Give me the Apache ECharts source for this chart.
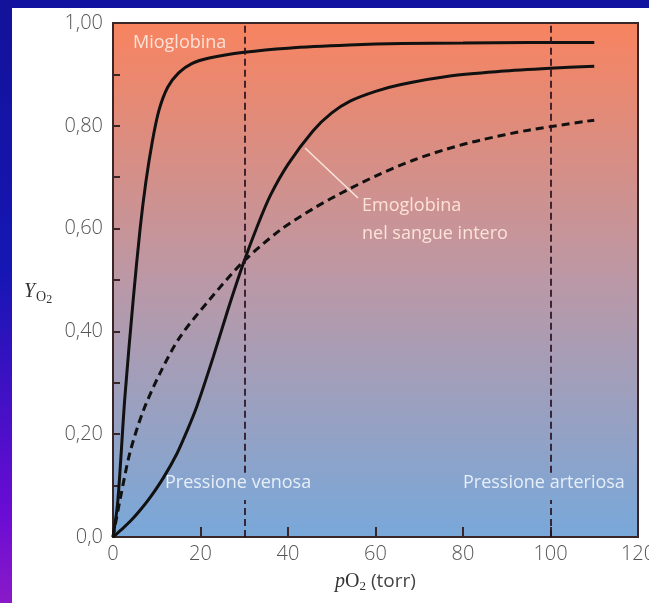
<!DOCTYPE html>
<html>
<head>
<meta charset="utf-8">
<script src="https://cdn.jsdelivr.net/npm/echarts@6/dist/echarts.min.js"></script>
<style>
  html, body { margin: 0; padding: 0; background: #ffffff; }
  #chart { width: 649px; height: 603px; }
</style>
</head>
<body>
<div id="chart"></div>
<script>
// ---- data ----
const xTicks = [0, 20, 40, 60, 80, 100, 120];
const yTickLabels = ['0,0', '0,20', '0,40', '0,60', '0,80', '1,00'];

const mioX = [0, 1.1, 2.7, 4.6, 6.2, 7.5, 9.0, 10.5, 12.5, 15, 18, 22, 30, 40, 54, 66, 80, 95, 110];
const mioY = [0, 0.07, 0.27, 0.46, 0.60, 0.69, 0.77, 0.83, 0.875, 0.903, 0.921, 0.932, 0.943, 0.951, 0.957, 0.960, 0.961, 0.962, 0.962];

const hbX = [0, 2, 4, 6, 8.5, 11.5, 14.6, 17, 19.2, 22.9, 26.3, 29.7, 33, 36, 40, 45.7, 50, 54.2, 60, 65.6, 77, 88.5, 99.9, 110];
const hbY = [0, 0.015, 0.031, 0.05, 0.077, 0.115, 0.162, 0.208, 0.255, 0.35, 0.443, 0.53, 0.605, 0.665, 0.725, 0.79, 0.825, 0.848, 0.867, 0.88, 0.897, 0.906, 0.912, 0.916];

const dashX = [0, 1.6, 3.9, 6.9, 10.7, 15.3, 22.2, 29.7, 38.2, 46, 53.5, 61, 68.6, 76, 83.9, 95.3, 110];
const dashY = [0, 0.072, 0.165, 0.245, 0.318, 0.389, 0.463, 0.535, 0.597, 0.64, 0.675, 0.706, 0.733, 0.754, 0.772, 0.792, 0.811];

const venosa = 30, arteriosa = 100;
const gapLow = 0.072, gapHigh = 0.125;

const zip = (xs, ys) => xs.map((x, i) => [x, ys[i]]);

const chart = echarts.init(document.getElementById('chart'), null, { renderer: 'canvas' });
const axisColor = '#3a2626';
const labelFont = 'Open Sans';

const vLine = (x) => [
  [{ coord: [x, 0] }, { coord: [x, gapLow] }],
  [{ coord: [x, gapHigh] }, { coord: [x, 1] }]
];

chart.setOption({
  animation: false,
  backgroundColor: '#ffffff',
  grid: {
    left: 113, top: 23, right: 11, bottom: 66,
    outerBoundsMode: 'none',
    containLabel: false,
    show: true,
    borderColor: axisColor,
    borderWidth: 2,
    backgroundColor: {
      type: 'linear', x: 0, y: 0, x2: 0, y2: 1,
      colorStops: [
        { offset: 0, color: '#f8835f' },
        { offset: 0.5, color: '#bb98a6' },
        { offset: 1, color: '#78a8da' }
      ]
    }
  },
  xAxis: {
    type: 'value', min: 0, max: 120, interval: 20,
    axisLine: { show: true, lineStyle: { color: axisColor, width: 2 } },
    axisTick: { show: true, inside: true, length: 10, lineStyle: { color: axisColor, width: 2 } },
    splitLine: { show: false },
    axisLabel: {
      color: '#555', fontSize: 20, fontFamily: labelFont, fontWeight: 300, margin: 7,
      formatter: v => xTicks.includes(v) ? String(v) : ''
    }
  },
  yAxis: {
    type: 'value', min: 0, max: 1, interval: 0.2,
    axisLine: { show: true, lineStyle: { color: axisColor, width: 2 } },
    axisTick: { show: true, inside: true, length: 7, lineStyle: { color: axisColor, width: 2 } },
    minorTick: { show: true, splitNumber: 2, length: 7, lineStyle: { color: axisColor, width: 2 } },
    splitLine: { show: false },
    minorSplitLine: { show: false },
    axisLabel: {
      color: '#555', fontSize: 20, fontFamily: labelFont, fontWeight: 300, margin: 10,
      formatter: v => yTickLabels[Math.round(v * 5)]
    }
  },
  series: [
    {
      name: 'Mioglobina', type: 'line', data: zip(mioX, mioY),
      showSymbol: false, smooth: 0.3,
      lineStyle: { color: '#111', width: 3 }
    },
    {
      name: 'Emoglobina', type: 'line', data: zip(hbX, hbY),
      showSymbol: false, smooth: 0.3,
      lineStyle: { color: '#111', width: 3 }
    },
    {
      name: 'Emoglobina tratteggiata', type: 'line', data: zip(dashX, dashY),
      showSymbol: false, smooth: 0.3,
      lineStyle: { color: '#111', width: 3, type: [8, 5] },
      markLine: {
        silent: true, symbol: 'none', label: { show: false },
        lineStyle: { color: 'rgba(40,15,30,0.85)', width: 2, type: [7, 4] },
        data: vLine(venosa).concat(vLine(arteriosa))
      }
    }
  ],
  graphic: [
    // blue frame
    { type: 'rect', shape: { x: 0, y: 0, width: 649, height: 8 }, style: { fill: '#1212a0' }, z: 100 },
    { type: 'rect', shape: { x: 0, y: 0, width: 12, height: 603 },
      style: { fill: new echarts.graphic.LinearGradient(0, 0, 0, 1, [
        { offset: 0, color: '#12129a' },
        { offset: 0.45, color: '#1616b4' },
        { offset: 0.85, color: '#6a0cd4' },
        { offset: 1, color: '#8a1ac8' }
      ]) }, z: 100 },
    // annotations
    { type: 'text', left: 133, top: 34, z: 50,
      style: { text: 'Mioglobina', fill: '#fde2d8', font: '18px "Open Sans"' } },
    { type: 'line', z: 50, shape: { x1: 305, y1: 148, x2: 358, y2: 198 },
      style: { stroke: '#fbe6de', lineWidth: 1.5 } },
    { type: 'text', left: 362, top: 192, z: 50,
      style: { text: 'Emoglobina\nnel sangue intero', fill: '#fde2d8', font: '18px "Open Sans"', lineHeight: 28 } },
    { type: 'text', left: 165, top: 474, z: 50,
      style: { text: 'Pressione venosa', fill: '#e6eef8', font: '18px "Open Sans"' } },
    { type: 'text', left: 463, top: 474, z: 50,
      style: { text: 'Pressione arteriosa', fill: '#e6eef8', font: '18px "Open Sans"' } },
    // axis titles
    { type: 'text', left: 24, top: 278, z: 50,
      style: {
        text: '{i|Y}{s|O}{t|2}',
        rich: {
          i: { fontFamily: 'Liberation Serif', fontStyle: 'italic', fontSize: 20, fill: '#333', lineHeight: 26 },
          s: { fontFamily: 'Liberation Serif', fontSize: 14, fill: '#333', padding: [10, 0, 0, 1], lineHeight: 26 },
          t: { fontFamily: 'Liberation Serif', fontSize: 12, fill: '#333', padding: [16, 0, 0, 0], lineHeight: 26 }
        }
      } },
    { type: 'text', left: 335, top: 570, z: 50,
      style: {
        text: '{i|p}{o|O}{t|2}{n| (torr)}',
        rich: {
          i: { fontFamily: 'Liberation Serif', fontStyle: 'italic', fontSize: 20, fill: '#333', lineHeight: 26 },
          o: { fontFamily: 'Liberation Serif', fontSize: 20, fill: '#333', lineHeight: 26 },
          t: { fontFamily: 'Liberation Serif', fontSize: 13, fill: '#333', padding: [10, 0, 0, 0], lineHeight: 26 },
          n: { fontFamily: 'Open Sans', fontSize: 19, fill: '#444', lineHeight: 26 }
        }
      } }
  ]
});
</script>
</body>
</html>
